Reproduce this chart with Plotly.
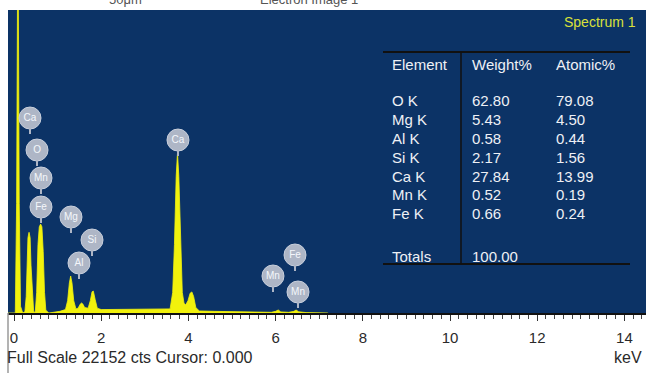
import plotly.graph_objects as go

# ---------------- data ----------------
energy_kev = [-0.14, 0.03, 0.06, 0.09, 0.12, 0.15, 0.2,
              0.25, 0.28, 0.30, 0.32, 0.345, 0.37, 0.39, 0.42, 0.45, 0.47,
              0.49, 0.52, 0.55, 0.58, 0.61, 0.64, 0.67, 0.70, 0.73, 0.8, 0.95, 1.05,
              1.18, 1.23, 1.27, 1.30, 1.33, 1.37, 1.42,
              1.47, 1.52, 1.55, 1.58, 1.62,
              1.70, 1.75, 1.79, 1.82, 1.86, 1.91, 2.0,
              2.5, 3.0, 3.5,
              3.58, 3.64, 3.68, 3.72, 3.75, 3.78, 3.82, 3.86, 3.90,
              3.94, 3.99, 4.04, 4.08, 4.12, 4.17, 4.25,
              4.6, 5.0, 5.5, 5.9, 6.0, 6.06, 6.12, 6.3, 6.42, 6.47, 6.53, 6.7, 7.2]
counts = [0, 0, 8000, 30000, 8000, 500, 0,
          100, 1200, 3500, 5500, 5900, 5500, 3500, 1200, 150, 0,
          150, 1500, 5000, 6300, 6500, 6300, 4500, 1500, 200, 0, 60, 120,
          250, 900, 2200, 2700, 2200, 900, 300,
          350, 650, 730, 650, 400,
          350, 900, 1550, 1600, 1000, 350, 250,
          250, 250, 260,
          300, 1500, 5000, 10000, 11700, 10000, 5000, 1500, 700,
          600, 900, 1450, 1540, 1200, 400, 150,
          120, 90, 60, 50, 120, 220, 80, 50, 120, 220, 90, 30, 0]

full_scale = 22152

label_names = ["Ca", "O", "Mn", "Fe", "Mg", "Si", "Al", "Ca", "Mn", "Fe", "Mn"]
label_kev = [0.367, 0.528, 0.619, 0.619, 1.307, 1.789, 1.491, 3.761, 5.94, 6.445, 6.514]
label_cts = [14255, 11915, 9869, 7749, 7018, 5336, 3655, 12646, 2705, 4240, 1535]

table_elements = ["O K", "Mg K", "Al K", "Si K", "Ca K", "Mn K", "Fe K"]
table_weight = ["62.80", "5.43", "0.58", "2.17", "27.84", "0.52", "0.66"]
table_atomic = ["79.08", "4.50", "0.44", "1.56", "13.99", "0.19", "0.24"]
table_total = "100.00"

x_ticks = [0, 2, 4, 6, 8, 10, 12, 14]

# ---------------- layout helpers ----------------
W, H = 646, 373
ML, MR, MT, MB = 8, 0, 10, 60
PW, PH = W - ML - MR, H - MT - MB


def px(x):
    return (x - ML) / PW


def py(y):
    return (MT + PH - y) / PH


FONT = "Liberation Sans, Arial, sans-serif"
YEL = "#f2f20c"
BUB = "#aeb6c6"

fig = go.Figure()
fig.add_trace(go.Scatter(
    x=energy_kev, y=counts, mode="lines", fill="tozeroy",
    line=dict(color=YEL, width=0.8), fillcolor=YEL, hoverinfo="skip",
    showlegend=False))

fig.add_trace(go.Scatter(
    x=label_kev, y=label_cts, mode="markers+text", text=label_names,
    textposition="middle center",
    textfont=dict(family=FONT, size=10, color="#f4f6fb"),
    marker=dict(size=22, color=BUB, line=dict(width=1, color="#c8cfdc")),
    showlegend=False, hoverinfo="skip"))

shapes = []
for lx, ly in zip(label_kev, label_cts):
    shapes.append(dict(type="line", xref="x", yref="y", ysizemode="pixel",
                       yanchor=ly, x0=lx, x1=lx, y0=-10, y1=-16,
                       line=dict(color=BUB, width=2)))

# table lines
shapes.append(dict(type="line", xref="paper", yref="paper", x0=px(383), x1=px(630),
                   y0=py(52), y1=py(52), line=dict(color="#111", width=2)))
shapes.append(dict(type="line", xref="paper", yref="paper", x0=px(383), x1=px(630),
                   y0=py(264), y1=py(264), line=dict(color="#111", width=2)))
shapes.append(dict(type="line", xref="paper", yref="paper", x0=px(461), x1=px(461),
                   y0=py(52), y1=py(264), line=dict(color="#111", width=1.5)))
# left window border below the plot
shapes.append(dict(type="line", xref="paper", yref="paper", x0=0, x1=0,
                   y0=py(313), y1=py(373), line=dict(color="#9a9a9a", width=1.5)))

ann = []
tf = dict(family=FONT, size=15, color="#eef0f5")


def txt(s, x, y, anchor="left", font=tf):
    ann.append(dict(text=s, x=px(x), y=py(y), xref="paper", yref="paper",
                    xanchor=anchor, yanchor="middle", showarrow=False, font=font))


txt("Element", 390, 64)
txt("Weight%", 470, 64)
txt("Atomic%", 554, 64)
row_y = [101, 120, 138, 157, 176, 194, 213]
for e, w, a, y in zip(table_elements, table_weight, table_atomic, row_y):
    txt(e, 390, y)
    txt(w, 470, y)
    txt(a, 554, y)
txt("Totals", 390, 256)
txt(table_total, 470, 256)

txt("Spectrum 1", 638, 22, anchor="right",
    font=dict(family=FONT, size=14, color="#d9e03a"))

bfont = dict(family=FONT, size=16, color="#2a2a2a")
txt("Full Scale %d cts Cursor: 0.000" % full_scale, 5, 357, font=bfont)
txt("keV", 644, 357, anchor="right", font=bfont)

# cropped titles at the very top
tfont = dict(family=FONT, size=13, color="#555")
ann.append(dict(text="50μm", x=px(125), y=py(9), xref="paper", yref="paper",
                xanchor="center", yanchor="bottom", showarrow=False, font=tfont))
ann.append(dict(text="Electron Image 1", x=px(309), y=py(9), xref="paper", yref="paper",
                xanchor="center", yanchor="bottom", showarrow=False, font=tfont))

fig.update_layout(
    width=W, height=H,
    margin=dict(l=ML, r=MR, t=MT, b=MB),
    paper_bgcolor="white", plot_bgcolor="#0c3366",
    shapes=shapes, annotations=ann,
    xaxis=dict(range=[(ML - 14) / 43.6, (W - 14) / 43.6], showgrid=False, zeroline=False,
               showline=True, linecolor="#111", linewidth=1.5,
               ticks="outside", ticklen=6, tickcolor="#333", tickwidth=1,
               tickvals=x_ticks, ticktext=[str(t) for t in x_ticks],
               tickfont=dict(family=FONT, size=15, color="#2a2a2a"),
               minor=dict(dtick=0.2, ticks="outside", ticklen=4, tickcolor="#444"),
               ticklabelstandoff=4, fixedrange=True),
    yaxis=dict(range=[0, full_scale], visible=False, fixedrange=True),
    font=dict(family=FONT),
)

fig.write_html("out.html", config={"displayModeBar": False},
               post_script="document.body.style.margin='0';document.body.style.overflow='hidden';")
